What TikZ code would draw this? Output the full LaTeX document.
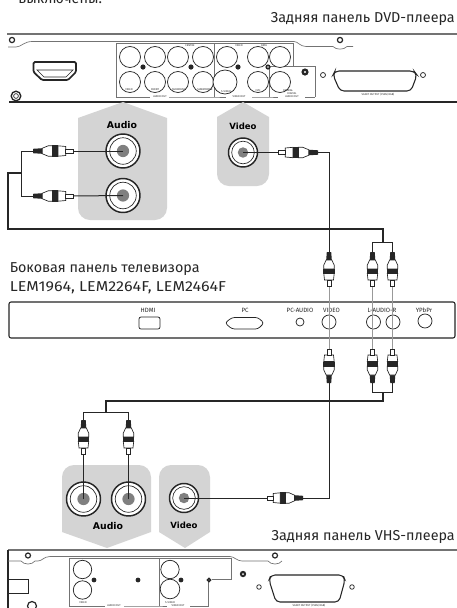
\documentclass[tikz,border=0pt]{standalone}
\usepackage{fontspec}
\setmainfont{Fira Sans}
\newfontfamily\boldlab{DejaVu Sans Bold}
\usetikzlibrary{calc}
\definecolor{panelgrey}{gray}{0.83}
\definecolor{linegrey}{gray}{0.45}
\definecolor{wiregrey}{gray}{0.6}
\definecolor{coregrey}{gray}{0.5}
\definecolor{ink}{gray}{0.15}
\tikzset{
  px/.style={x=0.75pt,y=-0.75pt},
  wire/.style={draw=ink,line width=0.75pt},
  thinwire/.style={draw=wiregrey,line width=0.6pt},
  thick line/.style={draw=linegrey,line width=1.5pt},
  dark line/.style={draw=ink,line width=1.5pt},
  port/.style={draw=ink,line width=0.55pt,fill=white},
  boxline/.style={draw=linegrey,line width=0.35pt},
  greypanel/.style={fill=panelgrey,draw=none},
  caption/.style={inner sep=0pt,font=\fontsize{10.75pt}{12pt}\selectfont,text=ink},
  jacklabel/.style={inner sep=0pt,text=black,font=\boldlab\fontsize{7pt}{8pt}\selectfont},
  tvlabel/.style={inner sep=0pt,text=ink,font=\fontsize{4.6pt}{5pt}\selectfont},
  tiny/.style={inner sep=0pt,text=ink,font=\fontsize{2pt}{2.4pt}\selectfont},
  dot/.style={fill=ink,draw=none},
  screw/.style={draw=ink,line width=0.9pt,fill=white},
  plug/.pic={
    \fill[ink] (-2.2,0) -- (2.2,0) -- (2.8,8) -- (-2.8,8) -- cycle;
    \filldraw[draw=ink,fill=white,line width=0.5pt] (-2.8,8) -- (2.8,8) -- (5.2,13) -- (5.2,17) -- (-5.2,17) -- (-5.2,13) -- cycle;
    \fill[ink] (-5.6,16.5) rectangle (5.6,21.5);
    \filldraw[draw=ink,fill=white,line width=0.5pt] (-5.2,21.5) -- (5.2,21.5) -- (4.5,28) -- (-4.5,28) -- cycle;
    \filldraw[draw=ink,fill=white,line width=0.4pt] (-2.2,28) rectangle (2.2,34);
  }
}
\newcommand{\bigjack}[3]{%
  \node[circle,draw=ink,line width=1.1pt,fill=white,minimum size=#3*2*0.75pt,inner sep=0pt] (#1) at (#2) {};
  \draw[ink,line width=0.5pt] (#2) circle[radius=#3*0.78];
  \fill[coregrey] (#2) circle[radius=#3*0.36];
}
\begin{document}
\begin{tikzpicture}[px]
\useasboundingbox (0,0) rectangle (457,608);
\clip (0,0) rectangle (457,608);
\fill[white] (0,0) rectangle (457,608);

% captions
\node[caption,anchor=base west] (topnote) at (18,3) {выключены.};
\node[caption,anchor=base east] (dvdcap) at (455,22) {Задняя панель DVD-плеера};
\node[caption,anchor=base west] (tvcap1) at (9.5,272) {Боковая панель телевизора};
\node[caption,anchor=base west] (tvcap2) at (9.5,291) {\scalebox{1.12}[1]{LEM1964, LEM2264F, LEM2464F}};
\node[caption,anchor=base east] (vhscap) at (455,540) {Задняя панель VHS-плеера};

% DVD panel
\draw[thick line] (7,33.5) -- (457,33.5);
\draw[dark line] (9,102) -- (457,102);
\draw[boxline,line width=0.5pt] (8,47) -- (16,47) .. controls (21,47) and (24,41.5) .. (32,41.5) -- (294,41.5)
  .. controls (298,41.5) and (300,46.5) .. (306,46.5) -- (333,46.5) .. controls (336,50) and (344,50) .. (347,46.5) -- (353,46.5);
\draw[screw] (12,40) circle[radius=2.6];
\draw[screw] (340,40) circle[radius=2.6];
\draw[screw,line width=1pt] (16,96) circle[radius=4.8];
\draw[ink,line width=0.5pt] (16,96) circle[radius=2.4];
% HDMI
\draw[draw=ink,line width=1.3pt,rounded corners=1pt] (33.5,62) -- (76,62) -- (76,72) -- (68,80) -- (42,80) -- (33.5,72) -- cycle;
\draw[ink,line width=0.5pt] (37,70) -- (73,70) -- (66,77) -- (44,77) -- cycle;
% DVD box lines
\draw[boxline] (116,97) -- (116,43) -- (293,43) -- (293,66.5);
\draw[boxline] (214,43) -- (214,97);
\draw[boxline] (269,66.5) -- (269,97);
\draw[boxline] (269,66.5) -- (315,66.5) -- (315,97);
\draw[boxline] (116,97) -- (150,97) (169,97) -- (214,97) -- (226,97) (252,97) -- (269,97) -- (278,97) (305,97) -- (315,97);
% DVD jacks
\foreach \jx/\jy/\jr/\jn in {130/57/10.5/a,155/57/10.5/b,178/57/10.5/c,203/57/10.5/d,227/57/10.5/e,258/57/10.5/f,280/57/10.5/g,
  130/82/10.5/h,155/82/10.5/i,178/82/10.5/j,203/82/10.5/k,225/82/12/l,258/82/10.5/m,280/82/10.5/n}
  {\draw[port] (\jx,\jy) circle[radius=\jr];}
\foreach \dx/\dy in {143/67,191/67,238/67} {\fill[dot] (\dx,\dy) circle[radius=2.6];}
\fill[dot] (268,67) circle[radius=2.6];
\fill[white] (268,67) circle[radius=0.9];
\fill[dot] (305,72) circle[radius=3.6];
\fill[white] (305,72) circle[radius=1.2];
\draw[port] (323,75) circle[radius=2.5];
\draw[port] (423,75) circle[radius=2.5];
\draw[draw=ink,line width=0.8pt,fill=white,rounded corners=3pt] (335,71) -- (414,71) -- (417,75) -- (411,91) -- (340,91) -- (333,75) -- cycle;
\node[tiny] (dvd1) at (129,90) {VIDEO};
\node[tiny] (dvd2) at (155,90) {FRONT};
\node[tiny] (dvd3) at (179,90) {SURROUND};
\node[tiny] (dvd4) at (205,90) {SUBWOOFER};
\node[tiny] (dvd5) at (226,91.5) {S-VIDEO};
\node[tiny] (dvd6) at (258,91) {CVH};
\node[tiny] (dvd7) at (288,91) {COAXIAL};
\node[tiny] (dvd8) at (160,97) {AUDIO OUT};
\node[tiny] (dvd9) at (239,97) {VIDEO OUT};
\node[tiny,align=center] (dvd10) at (292,95) {DIGITAL\\AUDIO OUT};
\node[tiny] (dvd11) at (378,95) {SCART OUTPUT (CVBS/RGB)};
\node[tiny] (dvd12) at (190,46) {CENTRE};
\node[tiny] (dvd13) at (239,46) {VIDEO};
\node[tiny] (dvd14) at (264,46) {DATA};

% upper grey panels
\fill[greypanel,rounded corners=0pt] (123,102) -- (167,118) -- (167,208) arc[start angle=0,end angle=90,radius=12] -- (90,220) arc[start angle=90,end angle=180,radius=12] -- (78,118) -- cycle;
\fill[greypanel] (243,102) -- (269,117) -- (269,174) arc[start angle=0,end angle=90,radius=12] -- (229,186) arc[start angle=90,end angle=180,radius=12] -- (217,117) -- cycle;
\node[jacklabel] (dvdaudio) at (122,125) {Audio};
\node[jacklabel,font=\boldlab\fontsize{6.4pt}{8pt}\selectfont] (dvdvideo) at (243,126) {Video};

\bigjack{jA}{123,151}{17}
\bigjack{jB}{123,195.5}{17}
\bigjack{jV}{243,152.5}{14.5}

% upper wiring
\coordinate (plugAend) at (73,151);
\coordinate (plugBend) at (73,196);
\coordinate (brA) at (21,151);
\coordinate (brB) at (21,196);
\coordinate (brM) at (21,173);
\coordinate (corner) at (8,173);
\coordinate (busL) at (8,229);
\coordinate (busR) at (383,229);
\coordinate (fork) at (383,242);
\coordinate (forkL) at (372.5,242);
\coordinate (forkR) at (392.5,242);
\coordinate (vcorner) at (329,152.5);
\draw[wire] (jA.center) -- (plugAend);
\draw[wire] (jB.center) -- (plugBend);
\draw[wire] (33,151) -- (brA) -- (brB) -- (33,196);
\draw[wire,line width=1pt] (brM) -- (corner) -- (busL) -- (busR) -- (fork);
\draw[wire] (372.5,252) -- (forkL) -- (forkR) -- (392.5,252);
\draw[wire] (jV.center) -- (278,152.5);
\draw[wire] (318,152.5) -- (vcorner) -- (329,252);
\path (33,151) pic[rotate=90,yscale=1.17] {plug};
\path (33,196) pic[rotate=90,yscale=1.17] {plug};
\path (318,152.5) pic[rotate=-90,yscale=1.17] {plug};

% TV panel
\draw[draw=ink,line width=0.8pt,rounded corners=1.5pt,fill=white] (9,302) rectangle (455,338);
\node[tvlabel] (tvhdmi) at (148,310) {HDMI};
\node[tvlabel] (tvpc) at (245,310) {PC};
\node[tvlabel] (tvpca) at (300,310) {PC-AUDIO};
\node[tvlabel] (tvvid) at (331.5,310) {VIDEO};
\node[tvlabel] (tvlr) at (382,310) {L-AUDIO-R};
\node[tvlabel] (tvyp) at (424,310) {YPbPr};
\draw[port,rounded corners=1.5pt] (139,317) -- (160,317) -- (160,329) -- (139,329) -- cycle;
\draw[port,rounded corners=2pt] (232,317.5) -- (258,317.5) -- (264,323) -- (258,329) -- (232,329) -- (225,323) -- cycle;
\draw[port] (300,322) circle[radius=4];
\draw[port] (329,322) circle[radius=7];
\draw[port] (373.5,322) circle[radius=7];
\draw[port] (393,322) circle[radius=7];
\draw[port] (425,321) circle[radius=7];

% through lines
\draw[thinwire] (329,283) -- (329,349);
\draw[thinwire] (372.5,283) -- (372.5,349);
\draw[thinwire] (392.5,283) -- (392.5,349);

% TV plugs
\path (329,252) pic {plug};
\path (372.5,252) pic {plug};
\path (392.5,252) pic {plug};
\path (329,383) pic[yscale=-1] {plug};
\path (372.5,383) pic[yscale=-1] {plug};
\path (392.5,383) pic[yscale=-1] {plug};

% lower wiring
\coordinate (lforkL) at (372.5,392);
\coordinate (lforkR) at (392.5,392);
\coordinate (lfork) at (383,392);
\coordinate (lbusR) at (383,401);
\coordinate (lbusL) at (106,401);
\coordinate (lfork2) at (106,412);
\coordinate (lf2L) at (83.5,412);
\coordinate (lf2R) at (128.5,412);
\draw[wire] (372.5,383) -- (lforkL) -- (lforkR) -- (392.5,383);
\draw[wire,line width=1pt] (lfork) -- (lbusR) -- (lbusL) -- (lfork2);
\draw[wire] (83.5,420) -- (lf2L) -- (lf2R) -- (128.5,420);

% lower grey panels
\fill[greypanel] (74,465) -- (139,465) arc[start angle=-90,end angle=0,radius=12] -- (151,532) -- (107,548) -- (62,532) -- (62,477) arc[start angle=180,end angle=270,radius=12] -- cycle;
\fill[greypanel] (171,465) -- (198,465) arc[start angle=-90,end angle=0,radius=12] -- (210,532) -- (185,548) -- (159,532) -- (159,477) arc[start angle=180,end angle=270,radius=12] -- cycle;
\node[jacklabel] (vhsaudio) at (108,526) {Audio};
\node[jacklabel,font=\boldlab\fontsize{6.4pt}{8pt}\selectfont] (vhsvideo) at (184,525.5) {Video};
\bigjack{jC}{83.5,499}{17}
\bigjack{jD}{128.5,499}{17}
\bigjack{jW}{184,498}{14.5}
\draw[wire] (jC.center) -- (83.5,455);
\draw[wire] (jD.center) -- (128.5,455);
\draw[wire] (jW.center) -- (267,498);
\draw[wire] (303,498) -- (329,498) -- (329,383);
\path (83.5,420) pic {plug};
\path (128.5,420) pic {plug};
\path (303,498) pic[rotate=-90,yscale=1.06] {plug};

% VHS panel
\draw[thick line] (8,550) -- (457,550);
\draw[draw=ink,line width=0.9pt] (8,550) -- (8,608);
\draw[boxline,line width=0.5pt] (8,561) -- (21,561) .. controls (24,565) and (32,565) .. (35,561) -- (38,561) .. controls (42,561) and (44,556.5) .. (50,556.5) -- (230,556.5)
  .. controls (234,556.5) and (237,561) .. (242,561) -- (268,561) .. controls (271,565) and (279,565) .. (282,561);
\draw[screw] (28,555.5) circle[radius=2.5];
\draw[screw] (275,555.5) circle[radius=2.5];
\draw[screw] (32,606) circle[radius=4.5];
\draw[boxline,line width=0.6pt,draw=ink] (8,579) -- (28,579) -- (28,593) -- (8,593);
\draw[boxline] (69,606) -- (69,558.5) -- (231,558.5) -- (231,579) -- (212,579);
\draw[boxline] (159,558.5) -- (159,606);
\draw[boxline] (208.5,582) -- (208.5,606);
\draw[boxline] (69,606) -- (105,606) (124,606) -- (159,606) -- (167,606) (190,606) -- (208.5,606);
\foreach \jx/\jy/\jr in {82.5/569.5/9.2,82.5/590/9.2,170/569.5/9.2,170/589/9.8}
  {\draw[port] (\jx,\jy) circle[radius=\jr];}
\foreach \dx/\dy in {94/580,138/580,181/580} {\fill[dot] (\dx,\dy) circle[radius=2.4];}
\draw[port,line width=1pt] (209,580) circle[radius=1.6];
\fill[dot] (243,574) circle[radius=3.2];
\fill[white] (243,574) circle[radius=1];
\draw[port] (259,587) circle[radius=2.3];
\draw[port] (352,587) circle[radius=2.3];
\draw[draw=ink,line width=0.8pt,fill=white,rounded corners=3pt] (271,575) -- (343,575) -- (345,580) -- (339,602) -- (276,602) -- (269,580) -- cycle;
\node[tiny] (vhs1) at (83,603) {VIDEO};
\node[tiny] (vhs2) at (170,603) {S-VIDEO};
\node[tiny] (vhs3) at (114,606) {AUDIO OUT};
\node[tiny] (vhs4) at (178,606) {VIDEO OUT};
\node[tiny] (vhs5) at (309,606) {SCART OUTPUT (CVBS/RGB)};
\end{tikzpicture}
\end{document}
